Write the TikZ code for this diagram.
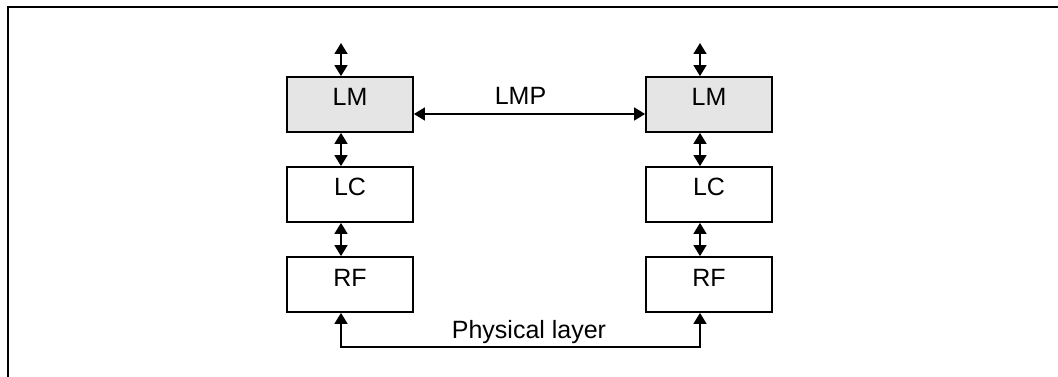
\documentclass[tikz,border=0pt]{standalone}
\usepackage{fontspec}
\setmainfont{Liberation Sans}
\usetikzlibrary{arrows.meta}
\begin{document}
\begin{tikzpicture}[x=1pt,y=-1pt,
  layerbox/.style={draw, line width=1.8pt, minimum width=126pt, minimum height=55pt,
    inner sep=0pt, text height=18pt, text depth=15pt, font=\fontsize{25}{30}\selectfont},
  lmbox/.style={layerbox, fill=gray!20},
  biarrow/.style={line width=1.6pt, {Triangle[length=11pt,width=13pt]}-{Triangle[length=11pt,width=13pt]}},
  lbl/.style={anchor=base, inner sep=0pt, font=\fontsize{25}{30}\selectfont}]
\useasboundingbox (0,0) rectangle (1058,377);
\draw[line width=1.9pt] (1058,7) -- (8,7) -- (8,377);

\node[lmbox] (lmL) at (350,104.5) {LM};
\node[layerbox] (lcL) at (350,194.5) {LC};
\node[layerbox] (rfL) at (350,284.5) {RF};
\node[lmbox] (lmR) at (709,104.5) {LM};
\node[layerbox] (lcR) at (709,194.5) {LC};
\node[layerbox] (rfR) at (709,284.5) {RF};

\coordinate (topL) at (341,43);
\coordinate (topR) at (700,43);
\coordinate (physL) at (341,347);
\coordinate (physR) at (700,347);

\draw[biarrow] (topL) -- (topL |- lmL.north);
\draw[biarrow] (topL |- lmL.south) -- (topL |- lcL.north);
\draw[biarrow] (topL |- lcL.south) -- (topL |- rfL.north);
\draw[biarrow] (topR) -- (topR |- lmR.north);
\draw[biarrow] (topR |- lmR.south) -- (topR |- lcR.north);
\draw[biarrow] (topR |- lcR.south) -- (topR |- rfR.north);

\draw[biarrow] ([yshift=-9.5pt]lmL.east) -- ([yshift=-9.5pt]lmR.west);
\node[lbl] (lmp) at (520.5,105) {LMP};

\draw[biarrow] (physL |- rfL.south) -- (physL) -- (physR) -- (physR |- rfR.south);
\node[lbl] (phys) at (529,338) {Physical layer};
\end{tikzpicture}
\end{document}
